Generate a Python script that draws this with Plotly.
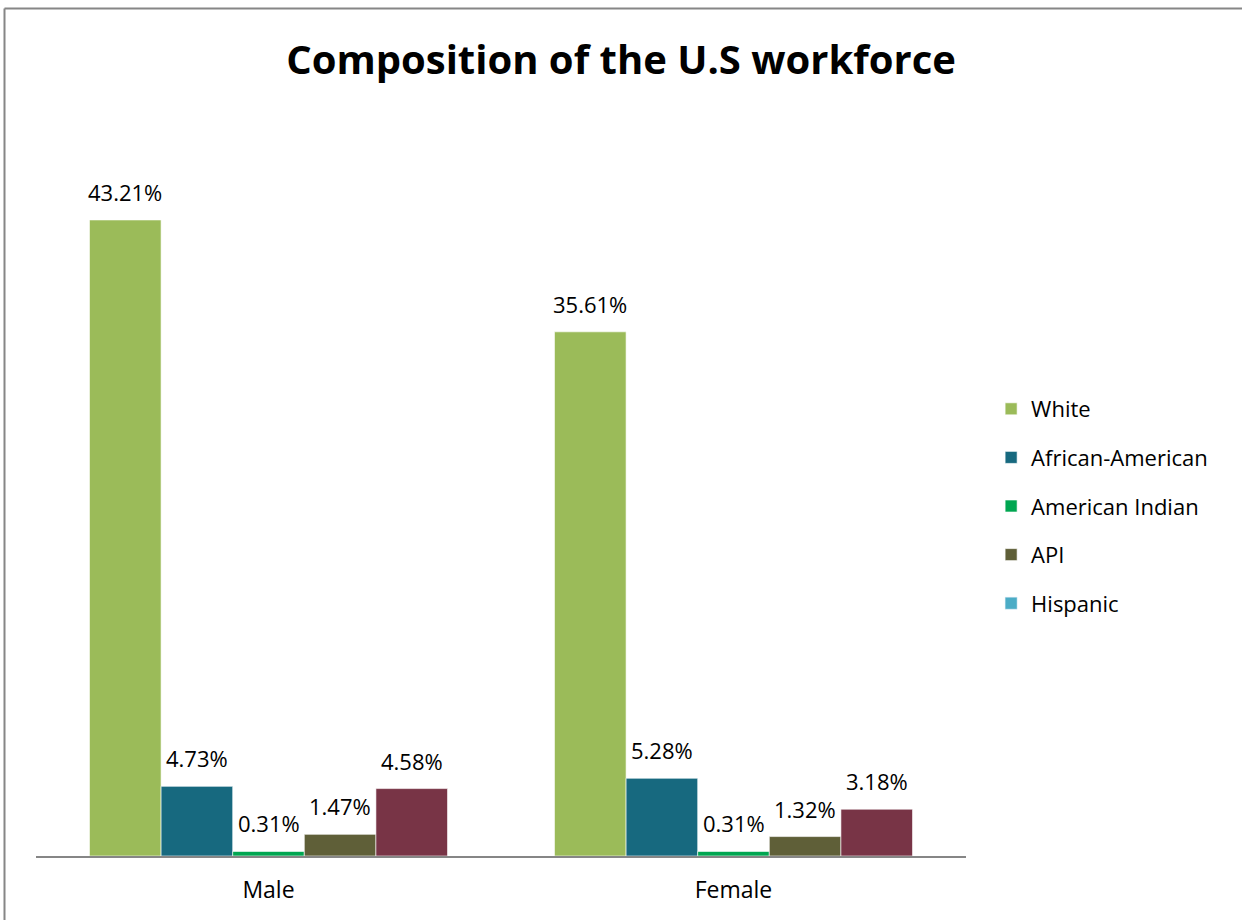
import plotly.graph_objects as go

# Workforce composition by sex and race/ethnicity (percent of total)
categories = ["Male", "Female"]
groups = ["White", "African-American", "American Indian", "API", "Hispanic"]
white = [43.21, 35.61]
african_american = [4.73, 5.28]
american_indian = [0.31, 0.31]
api = [1.47, 1.32]
hispanic = [4.58, 3.18]

series = [white, african_american, american_indian, api, hispanic]
bar_colors = ["#9BBB59", "#17697F", "#00A651", "#5F5F38", "#783446"]
legend_colors = ["#9BBB59", "#17697F", "#00A651", "#5F5F38", "#4BACC6"]

FONT = "Open Sans"
BARGAP = 0.23
PLOT_W = 1242 - 36 - 276

fig = go.Figure()
for name, vals, bc, lc in zip(groups, series, bar_colors, legend_colors):
    same = bc == lc
    fig.add_trace(go.Bar(
        x=categories, y=vals, name=name,
        marker=dict(color=bc, line=dict(color="rgba(255,255,255,0.6)", width=1)),
        offsetgroup=name, legendgroup=name,
        showlegend=same,
    ))
    if not same:
        # legend swatch for this series uses its own colour
        fig.add_trace(go.Bar(
            x=[categories[0]], y=[None], name=name,
            marker=dict(color=lc),
            offsetgroup=name, legendgroup=name + "_key",
            showlegend=True, hoverinfo="skip",
        ))

# value labels above each bar, shifted sideways to the bar's slot in the group
bar_px = PLOT_W / len(categories) * (1 - BARGAP) / len(groups)
for k, vals in enumerate(series):
    shift = (k - (len(groups) - 1) / 2) * bar_px
    for cat, v in zip(categories, vals):
        fig.add_annotation(
            x=cat, y=v, xref="x", yref="y",
            text=f"{v:.2f}%", showarrow=False,
            xanchor="center", yanchor="bottom",
            xshift=shift, yshift=11,
            font=dict(family=FONT, size=22, color="#000000"),
        )

fig.update_layout(
    width=1242, height=920,
    paper_bgcolor="white", plot_bgcolor="white",
    margin=dict(l=36, r=276, t=120, b=64),
    barmode="group", bargap=BARGAP, bargroupgap=0,
    title=dict(text="<b>Composition of the U.S workforce</b>",
               x=0.5, xref="container", xanchor="center",
               y=1 - 60 / 920, yref="container", yanchor="middle",
               font=dict(family=FONT, size=40, color="#000000")),
    font=dict(family=FONT, size=22, color="#000000"),
    legend=dict(x=1.027, xanchor="left", y=(856 - 506) / 736, yanchor="middle",
                traceorder="grouped", tracegroupgap=17,
                font=dict(family=FONT, size=22, color="#000000"),
                bgcolor="rgba(0,0,0,0)"),
    xaxis=dict(showline=True, linecolor="#868686", linewidth=2,
               ticks="", showgrid=False, tickfont=dict(family=FONT, size=23),
               ticklabelstandoff=12),
    yaxis=dict(range=[0, 50], visible=False, showgrid=False, zeroline=False),
    showlegend=True,
    shapes=[
        dict(type="line", xref="paper", yref="paper",
             x0=(4.5 - 36) / 930, x1=(1250 - 36) / 930,
             y0=(856 - 8.5) / 736, y1=(856 - 8.5) / 736,
             line=dict(color="#868686", width=2)),
        dict(type="line", xref="paper", yref="paper",
             x0=(4.5 - 36) / 930, x1=(4.5 - 36) / 930,
             y0=(856 - 8.5) / 736, y1=-0.2,
             line=dict(color="#868686", width=2)),
    ],
)

fig.write_html("out.html")
